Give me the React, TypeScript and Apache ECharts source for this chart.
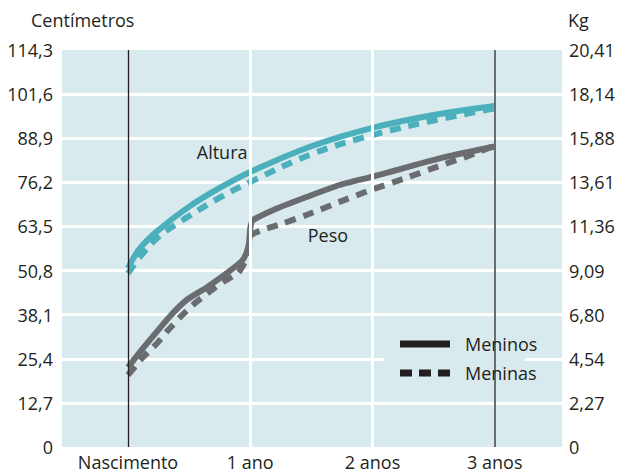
import React, { useEffect, useRef } from "react";
import * as echarts from "echarts";

// Eixo X (anos)
const xLabels = ["Nascimento", "1 ano", "2 anos", "3 anos"];
const xLabelValues = [0, 1, 2, 3];

// Eixos Y
const cmTicks = ["0", "12,7", "25,4", "38,1", "50,8", "63,5", "76,2", "88,9", "101,6", "114,3"];
const kgTicks = ["0", "2,27", "4,54", "6,80", "9,09", "11,36", "13,61", "15,88", "18,14", "20,41"];

// Altura (cm)
const heightAges = [0, 0.1, 0.25, 0.5, 0.75, 1, 1.5, 2, 2.5, 3];
const boysHeightCm = [51.5, 57.3, 62.5, 69.2, 74.6, 79.2, 86.6, 91.9, 95.6, 98.2];
const girlsHeightCm = [50.0, 54.8, 60.5, 66.5, 71.8, 76.3, 84.3, 89.8, 94.0, 97.5];

// Peso (kg)
const boysWeightAges = [0, 0.1, 0.2, 0.34, 0.48, 0.65, 0.81, 0.93, 0.97, 0.99, 1.0, 1.02, 1.19, 1.46, 1.73, 2.0, 2.2, 2.59, 3.0];
const boysWeightKg = [4.1, 4.9, 5.66, 6.7, 7.56, 8.23, 8.95, 9.55, 10.0, 10.5, 11.25, 11.65, 12.19, 12.85, 13.47, 13.9, 14.24, 14.9, 15.45];
const girlsWeightAges = [0, 0.12, 0.24, 0.32, 0.43, 0.53, 0.65, 0.78, 0.9, 0.97, 0.99, 1.01, 1.1, 1.27, 1.46, 1.73, 1.98, 2.26, 2.57, 2.8, 3.0];
const girlsWeightKg = [3.7, 4.6, 5.35, 5.95, 6.7, 7.3, 7.9, 8.5, 8.95, 9.7, 10.3, 10.9, 11.16, 11.5, 11.93, 12.6, 13.2, 13.8, 14.5, 15.0, 15.5];

const CM_MAX = 114.3;
const KG_MAX = 20.41;
const TEAL = "#4bb0bb";
const GRAY = "#6b6c6f";
const BG = "#d8eaee";
const INK = "#231f20";
const FONT = "'Open Sans', sans-serif";
const FS = 18;

const pairs = (xs: number[], ys: number[]) => xs.map((x, i) => [x, ys[i]]);

export default function App() {
  const ref = useRef<HTMLDivElement>(null);
  useEffect(() => {
    if (!ref.current) return;
    const chart = echarts.init(ref.current, null, { renderer: "svg" });
    const cmStep = CM_MAX / 9;
    const kgStep = KG_MAX / 9;
    const dash = [11, 8];
    chart.setOption({
      animation: false,
      textStyle: { fontFamily: FONT },
      title: [
        { text: "Centímetros", left: 31, top: 11, padding: 0, textStyle: { fontSize: FS, fontWeight: "normal", color: INK, fontFamily: FONT } },
        { text: "Kg", left: 568, top: 11, padding: 0, textStyle: { fontSize: FS, fontWeight: "normal", color: INK, fontFamily: FONT } },
      ],
      grid: { left: 62, right: 57, top: 50, bottom: 26, show: true, backgroundColor: BG, borderWidth: 0 },
      graphic: [
        { type: "rect", left: 384, top: 319, shape: { width: 141, height: 80 }, style: { fill: BG }, z: 2, silent: true },
      ],
      legend: {
        left: 400,
        top: 335,
        orient: "vertical",
        padding: 0,
        itemWidth: 50,
        itemHeight: 7,
        itemGap: 11,
        z: 10,
        data: [
          { name: "Meninos", icon: "rect" },
          { name: "Meninas", icon: "path://M0,0h12v7h-12z M19,0h12v7h-12z M38,0h12v7h-12z" },
        ],
        itemStyle: { color: INK },
        textStyle: { fontSize: FS, color: INK, fontFamily: FONT, padding: [0, 0, 0, 10] },
      },
      xAxis: {
        type: "value",
        min: -0.54,
        max: 3.55,
        axisLine: { show: false },
        axisTick: { show: false },
        splitLine: { show: false },
        axisLabel: {
          customValues: xLabelValues,
          margin: 6,
          fontSize: FS,
          color: INK,
          fontFamily: FONT,
          formatter: (v: number) => xLabels[Math.round(v)] ?? "",
        },
      },
      yAxis: [
        {
          type: "value",
          min: 0,
          max: CM_MAX,
          interval: cmStep,
          axisLine: { show: false },
          axisTick: { show: false },
          splitLine: { show: true, showMinLine: false, showMaxLine: false, lineStyle: { color: "#ffffff", width: 3 } },
          axisLabel: { margin: 9, fontSize: FS, color: INK, fontFamily: FONT, formatter: (v: number) => cmTicks[Math.round(v / cmStep)] ?? "" },
        },
        {
          type: "value",
          min: 0,
          max: KG_MAX,
          interval: kgStep,
          position: "right",
          axisLine: { show: false },
          axisTick: { show: false },
          splitLine: { show: false },
          axisLabel: { margin: 7, fontSize: FS, color: INK, fontFamily: FONT, formatter: (v: number) => kgTicks[Math.round(v / kgStep)] ?? "" },
        },
      ],
      series: [
        {
          name: "_grid",
          type: "line",
          data: [],
          z: 1,
          silent: true,
          markLine: {
            silent: true,
            symbol: "none",
            label: { show: false },
            data: [
              { xAxis: 0, lineStyle: { color: INK, width: 1.3, type: "solid" } },
              { xAxis: 1, lineStyle: { color: "#ffffff", width: 3, type: "solid" } },
              { xAxis: 2, lineStyle: { color: "#ffffff", width: 3, type: "solid" } },
              { xAxis: 3, lineStyle: { color: GRAY, width: 2, type: "solid" } },
            ],
          },
        },
        {
          name: "Altura meninos",
          type: "line",
          z: 4,
          showSymbol: false,
          smooth: 0.4,
          data: pairs(heightAges, boysHeightCm),
          lineStyle: { color: TEAL, width: 6, cap: "butt" },
          itemStyle: { color: TEAL },
          markPoint: {
            symbol: "circle",
            symbolSize: 0,
            data: [{ coord: [0.77, 84.9], value: "Altura" }],
            label: { show: true, position: "inside", formatter: "Altura", fontSize: FS, color: INK, fontFamily: FONT },
          },
        },
        {
          name: "Altura meninas",
          type: "line",
          z: 3,
          showSymbol: false,
          smooth: 0.4,
          data: pairs(heightAges, girlsHeightCm),
          lineStyle: { color: TEAL, width: 6, type: dash, cap: "butt" },
          itemStyle: { color: TEAL },
        },
        {
          name: "Peso meninos",
          type: "line",
          yAxisIndex: 1,
          z: 4,
          showSymbol: false,
          smooth: 0.2,
          data: pairs(boysWeightAges, boysWeightKg),
          lineStyle: { color: GRAY, width: 6, cap: "butt", join: "round" },
          itemStyle: { color: GRAY },
          markPoint: {
            symbol: "circle",
            symbolSize: 0,
            data: [{ coord: [1.635, 10.9], value: "Peso" }],
            label: { show: true, position: "inside", formatter: "Peso", fontSize: FS, color: INK, fontFamily: FONT },
          },
        },
        {
          name: "Peso meninas",
          type: "line",
          yAxisIndex: 1,
          z: 3,
          showSymbol: false,
          smooth: 0.2,
          data: pairs(girlsWeightAges, girlsWeightKg),
          lineStyle: { color: GRAY, width: 6, type: dash, cap: "butt", join: "round" },
          itemStyle: { color: GRAY },
        },
        {
          name: "Meninos",
          type: "line",
          data: [],
          showSymbol: false,
          itemStyle: { color: INK },
          lineStyle: { color: INK, width: 7, type: "solid" },
        },
        {
          name: "Meninas",
          type: "line",
          data: [],
          showSymbol: false,
          itemStyle: { color: INK },
          lineStyle: { color: INK, width: 7, type: [12, 7] },
        },
      ],
    });
    return () => chart.dispose();
  }, []);
  return <div ref={ref} style={{ width: 619, height: 473, position: "absolute", left: 0, top: 0 }} />;
}
